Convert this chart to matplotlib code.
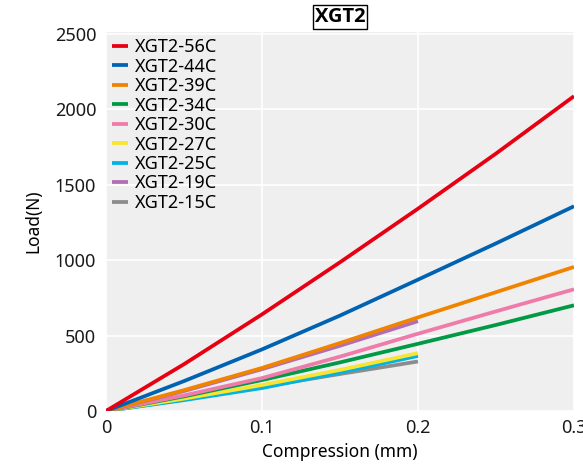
import matplotlib
matplotlib.use("Agg")
import matplotlib.pyplot as plt

plt.rcParams['font.family'] = ['Noto Sans', 'DejaVu Sans']

# compression (mm)
x_long = [0, 0.05, 0.1, 0.15, 0.2, 0.25, 0.3]
x_short = [0, 0.05, 0.1, 0.15, 0.2]

labels = ["XGT2-56C", "XGT2-44C", "XGT2-39C", "XGT2-34C", "XGT2-30C",
          "XGT2-27C", "XGT2-25C", "XGT2-19C", "XGT2-15C"]
colors = ["#e60012", "#0062b1", "#f08300", "#009944", "#f07aaa",
          "#f7e530", "#00b2e6", "#b36db3", "#8c8c8c"]

# load (N)
load_56c = [0, 310, 640, 985, 1340, 1705, 2085]
load_44c = [0, 198, 408, 632, 870, 1110, 1356]
load_39c = [0, 138, 285, 450, 620, 787, 954]
load_34c = [0, 97, 205, 322, 445, 570, 700]
load_30c = [0, 103, 218, 360, 512, 660, 806]
load_27c = [0, 82, 172, 272, 383]
load_25c = [0, 72, 152, 255, 365]
load_19c = [0, 132, 277, 432, 595]
load_15c = [0, 76, 160, 245, 328]

series = [(x_long, load_56c), (x_long, load_44c), (x_long, load_39c),
          (x_long, load_34c), (x_long, load_30c), (x_short, load_27c),
          (x_short, load_25c), (x_short, load_19c), (x_short, load_15c)]

fig = plt.figure(figsize=(5.83, 4.65), dpi=100)
ax = fig.add_axes([106 / 583, 54 / 465, 468 / 583, 379 / 465])
ax.set_facecolor("#efefef")

# draw in order so top curves sit on top like original
draw_order = [8, 6, 5, 3, 4, 7, 2, 1, 0]
handles = {}
for i in draw_order:
    xs, ys = series[i]
    ln, = ax.plot(xs, ys, color=colors[i], lw=2.7, solid_capstyle="butt",
                  label=labels[i])
    handles[i] = ln

ax.set_xlim(0, 0.3)
ax.set_ylim(0, 2510)
ax.set_xticks([0, 0.1, 0.2, 0.3])
ax.set_xticklabels(["0", "0.1", "0.2", "0.3"])
ax.set_yticks([0, 500, 1000, 1500, 2000, 2500])
ax.grid(True, color="white", lw=1.2)
ax.set_axisbelow(True)
for s in ax.spines.values():
    s.set_visible(False)
ax.tick_params(length=0, labelsize=13, colors="#1a1a1a")
ax.tick_params(axis="y", pad=7)
ax.tick_params(axis="x", pad=6)

ax.set_xlabel("Compression (mm)", fontsize=12.5, labelpad=4)
ax.set_ylabel("Load(N)", fontsize=12.5, labelpad=9)

ax.legend([handles[i] for i in range(9)], labels, loc="upper left",
          frameon=False, fontsize=13, handlelength=0.85, handletextpad=0.4,
          labelspacing=0.08, borderaxespad=0.3, borderpad=0.05)

ax.set_title("XGT2", fontsize=14.5, fontweight="bold", pad=7,
             family=["Open Sans", "DejaVu Sans"],
             bbox=dict(boxstyle="square,pad=0.1", fc="white", ec="black", lw=1))

fig.savefig("out.png", dpi=100)
